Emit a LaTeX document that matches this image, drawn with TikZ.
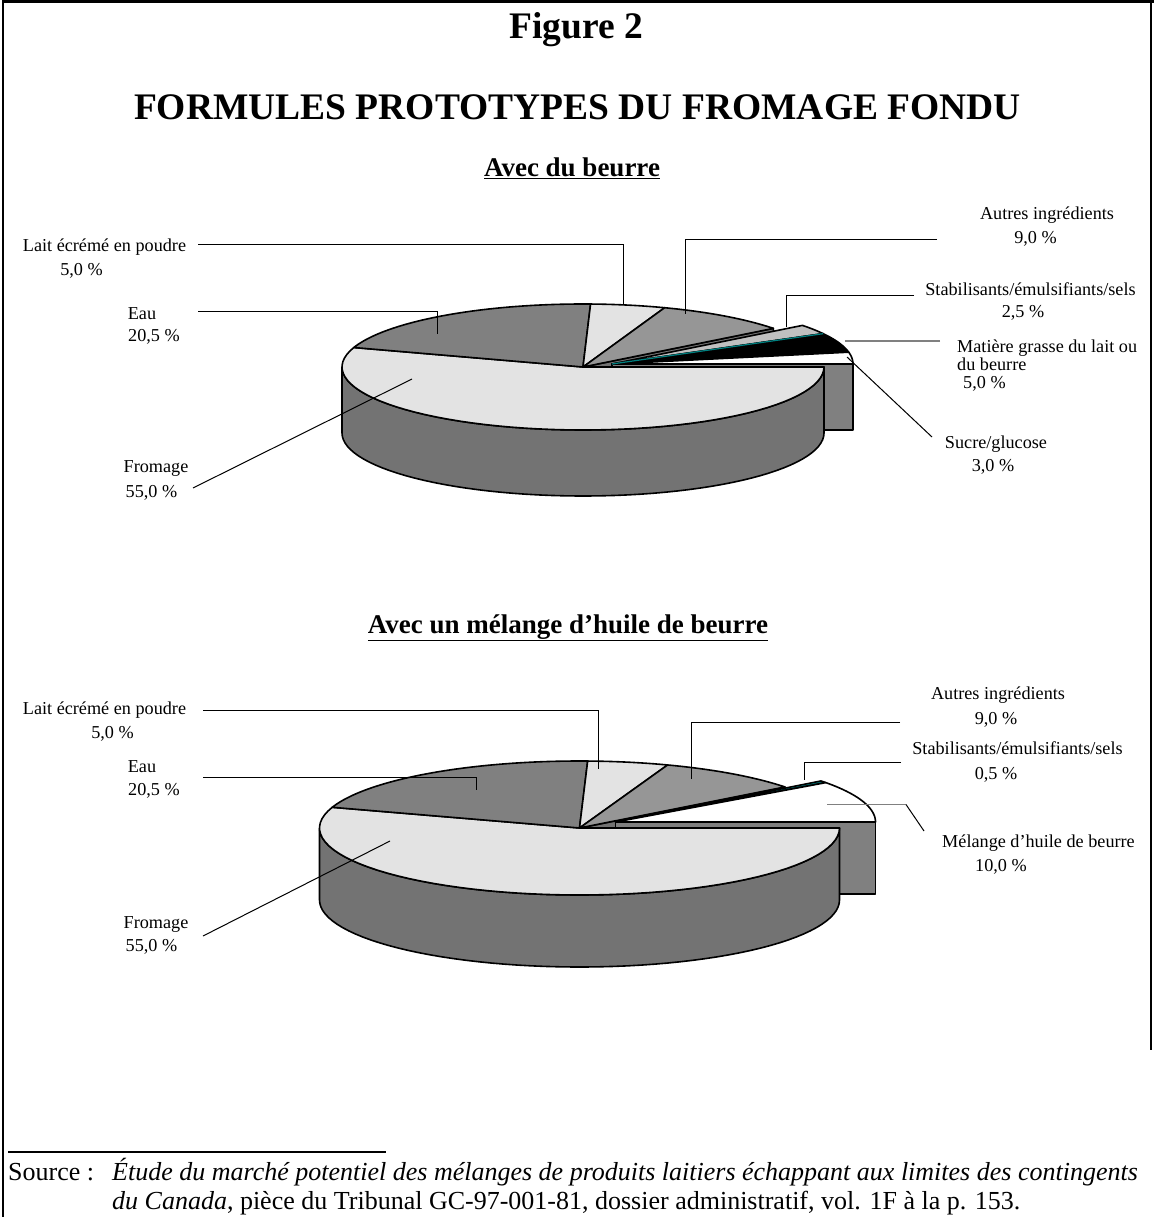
\documentclass[tikz,border=0pt]{standalone}
\usepackage{fontspec}
\setmainfont{Liberation Serif}

\definecolor{topgray}{HTML}{E3E3E3}
\definecolor{eaugray}{HTML}{808080}
\definecolor{wallgray}{HTML}{737373}
\definecolor{autgray}{HTML}{969696}
\definecolor{stabgray}{HTML}{C0C0C0}
\definecolor{stabteal}{HTML}{008080}

\tikzset{
  lbl/.style={font=\fontsize{18.2}{22}\selectfont, inner sep=0pt, anchor=base},
  head/.style={font=\fontsize{37.5}{40}\selectfont\bfseries, inner sep=0pt, anchor=base},
  subhead/.style={font=\fontsize{27}{30}\selectfont\bfseries, inner sep=0pt, anchor=base},
  src/.style={font=\fontsize{26}{30}\selectfont, inner sep=0pt, anchor=base west},
  slice/.style={draw=black, line width=1.6pt, line join=round},
  leader/.style={draw=black, line width=1pt},
  greyleader/.style={draw=eaugray, line width=1.6pt}
}

\begin{document}
\begin{tikzpicture}[x=1pt,y=-1pt]
        \useasboundingbox (0,0) rectangle (1154,1217);
        % Draw frame
        \draw[line width=2.5pt] (3,1217) -- (3,1.5) -- (1154,1.5);
        \draw[line width=2.5pt] (1151,1.5) -- (1151,1050);
        % Draw headings
        \node[head] (fig) at (576,38.4) {Figure 2};
        \node[head] (title) at (577.5,119.4) {FORMULES PROTOTYPES DU FROMAGE FONDU};
        \node[subhead] (sub1) at (572,176) {\underline{Avec du beurre}};
        \node[subhead] (sub2) at (568,633) {\underline{Avec un mélange d’huile de beurre}};

        % Pie 1: with butter
        \def\pcx{583}\def\pcy{367}\def\prx{241}\def\pry{63}\def\pdep{66}
        \def\pex{29}\def\pey{-3}
        % Draw cut face behind exploded slices
        \filldraw[slice,fill=wallgray] (\pcx,\pcy) -- ({\pcx+\prx*cos(37.8)},{\pcy-\pry*sin(37.8)})
        -- ++(0,\pdep) -- (\pcx,\pcy+\pdep) -- cycle;
        % Draw exploded slices
        \filldraw[slice,fill=eaugray] (\pcx+\pex,\pcy+\pey) rectangle ++(\prx,\pdep);
        \foreach \sa/\sb/\col in {37.8/28.8/stabgray, 28.8/10.8/black, 10.8/0/white}
        \filldraw[slice,fill=\col] (\pcx+\pex,\pcy+\pey) -- plot[domain=\sa:\sb,samples=20]
        ({\pcx+\pex+\prx*cos(\x)},{\pcy+\pey-\pry*sin(\x)}) -- cycle;
        \draw[stabteal,line width=1.2pt] (\pcx+\pex,\pcy+\pey)
        -- ({\pcx+\pex+\prx*cos(28.8)},{\pcy+\pey-\pry*sin(28.8)});
        % Draw side
        \filldraw[slice,fill=wallgray] plot[domain=180:360,samples=60] ({\pcx+\prx*cos(\x)},{\pcy-\pry*sin(\x)})
        -- plot[domain=360:180,samples=60] ({\pcx+\prx*cos(\x)},{\pcy+\pdep-\pry*sin(\x)}) -- cycle;
        % Draw top
        \foreach \sa/\sb/\col in {0/-198/topgray, 162/88.2/eaugray, 88.2/70.2/topgray, 70.2/37.8/autgray}
        \filldraw[slice,fill=\col] (\pcx,\pcy) -- plot[domain=\sa:\sb,samples=60]
        ({\pcx+\prx*cos(\x)},{\pcy-\pry*sin(\x)}) -- cycle;
        % Labels, left
        \node[lbl] (lait1) at (104.5,251.5) {Lait écrémé en poudre};
        \node[lbl] (lait1v) at (81.5,275.5) {5,0 \%};
        \node[lbl] (eau1) at (142,319.5) {Eau};
        \node[lbl] (eau1v) at (154,341.5) {20,5 \%};
        \node[lbl] (from1) at (156,472.5) {Fromage};
        \node[lbl] (from1v) at (151.5,497.5) {55,0 \%};
        % Labels, right
        \node[lbl] (aut1) at (1047,219.5) {Autres ingrédients};
        \node[lbl] (aut1v) at (1035.5,243.5) {9,0 \%};
        \node[lbl] (stab1) at (1030.5,295.5) {Stabilisants/émulsifiants/sels};
        \node[lbl] (stab1v) at (1023,317.5) {2,5 \%};
        \node[lbl,anchor=base west] (mat1) at (957,352.5) {Matière grasse du lait ou};
        \node[lbl,anchor=base west] (mat1b) at (957,370.5) {du beurre};
        \node[lbl,anchor=base west] (mat1v) at (963,388.5) {5,0 \%};
        \node[lbl] (suc1) at (996,448.5) {Sucre/glucose};
        \node[lbl] (suc1v) at (993,471.5) {3,0 \%};
        % Leaders
        \coordinate (lait1a) at (198,244.5);  \coordinate (lait1b) at (623,304);
        \coordinate (eau1a) at (198,311.5);   \coordinate (eau1b) at (437,334);
        \coordinate (from1a) at (193,488);    \coordinate (from1b) at (412,379);
        \coordinate (aut1a) at (937,239.5);   \coordinate (aut1b) at (685,314);
        \coordinate (stab1a) at (914,295);    \coordinate (stab1b) at (786,327);
        \coordinate (mat1a) at (940,341);     \coordinate (mat1b) at (845,341);
        \coordinate (suc1a) at (932,437);     \coordinate (suc1b) at (847,357);
        \draw[leader] (lait1a) -| (lait1b);
        \draw[leader] (eau1a) -| (eau1b);
        \draw[leader] (from1a) -- (from1b);
        \draw[leader] (aut1a) -| (aut1b);
        \draw[leader] (stab1a) -| (stab1b);
        \draw[greyleader] (mat1a) -- (mat1b);
        \draw[leader] (suc1a) -- (suc1b);

        % Pie 2: with butter oil blend
        \def\pcx{579.5}\def\pcy{828}\def\prx{260}\def\pry{67}\def\pdep{72}
        \def\pex{36}\def\pey{-6}
        % Draw cut face behind exploded slices
        \filldraw[slice,fill=wallgray] (\pcx,\pcy) -- ({\pcx+\prx*cos(37.8)},{\pcy-\pry*sin(37.8)})
        -- ++(0,\pdep) -- (\pcx,\pcy+\pdep) -- cycle;
        % Draw exploded slices
        \filldraw[slice,fill=eaugray] (\pcx+\pex,\pcy+\pey) rectangle ++(\prx,\pdep);
        \foreach \sa/\sb/\col in {37.8/36/stabteal, 36/0/white}
        \filldraw[slice,fill=\col] (\pcx+\pex,\pcy+\pey) -- plot[domain=\sa:\sb,samples=30]
        ({\pcx+\pex+\prx*cos(\x)},{\pcy+\pey-\pry*sin(\x)}) -- cycle;
        % Draw side
        \filldraw[slice,fill=wallgray] plot[domain=180:360,samples=60] ({\pcx+\prx*cos(\x)},{\pcy-\pry*sin(\x)})
        -- plot[domain=360:180,samples=60] ({\pcx+\prx*cos(\x)},{\pcy+\pdep-\pry*sin(\x)}) -- cycle;
        % Draw top
        \foreach \sa/\sb/\col in {0/-198/topgray, 162/88.2/eaugray, 88.2/70.2/topgray, 70.2/37.8/autgray}
        \filldraw[slice,fill=\col] (\pcx,\pcy) -- plot[domain=\sa:\sb,samples=60]
        ({\pcx+\prx*cos(\x)},{\pcy-\pry*sin(\x)}) -- cycle;
        % Labels, left
        \node[lbl] (lait2) at (104.5,714.5) {Lait écrémé en poudre};
        \node[lbl] (lait2v) at (112.5,738.5) {5,0 \%};
        \node[lbl] (eau2) at (142,772.5) {Eau};
        \node[lbl] (eau2v) at (154,795.5) {20,5 \%};
        \node[lbl] (from2) at (156,928.5) {Fromage};
        \node[lbl] (from2v) at (151.5,951.5) {55,0 \%};
        % Labels, right
        \node[lbl] (aut2) at (998,699.5) {Autres ingrédients};
        \node[lbl] (aut2v) at (996,724.5) {9,0 \%};
        \node[lbl] (stab2) at (1017.5,754.5) {Stabilisants/émulsifiants/sels};
        \node[lbl] (stab2v) at (996,779.5) {0,5 \%};
        \node[lbl] (mel2) at (1038.5,847.5) {Mélange d’huile de beurre};
        \node[lbl] (mel2v) at (1001,871.5) {10,0 \%};
        % Leaders
        \coordinate (lait2a) at (203,710);    \coordinate (lait2b) at (598,769);
        \coordinate (eau2a) at (203,777);     \coordinate (eau2b) at (476,790);
        \coordinate (from2a) at (203,936);    \coordinate (from2b) at (390,841);
        \coordinate (aut2a) at (900,722);     \coordinate (aut2b) at (691,779);
        \coordinate (stab2a) at (901,762.5);  \coordinate (stab2b) at (804,780);
        \coordinate (mel2a) at (924,831);     \coordinate (mel2k) at (906,804.5);
        \coordinate (mel2b) at (827,804.5);
        \draw[leader] (lait2a) -| (lait2b);
        \draw[leader] (eau2a) -| (eau2b);
        \draw[leader] (from2a) -- (from2b);
        \draw[leader] (aut2a) -| (aut2b);
        \draw[leader] (stab2a) -| (stab2b);
        \draw[greyleader] (mel2k) -- (mel2b);
        \draw[leader] (mel2a) -- (mel2k);

        % Source
        \draw[line width=2pt] (8,1152) -- (386,1152);
        \node[src] (srclbl) at (8,1180) {Source :};
        \node[src] (src1) at (112,1180) {\textit{Étude du marché potentiel des mélanges de produits laitiers échappant aux limites des contingents}};
        \node[src] (src2) at (112,1209) {\textit{du Canada}, pièce du Tribunal GC-97-001-81, dossier administratif, vol. 1F à la p. 153.};
\end{tikzpicture}
\end{document}
